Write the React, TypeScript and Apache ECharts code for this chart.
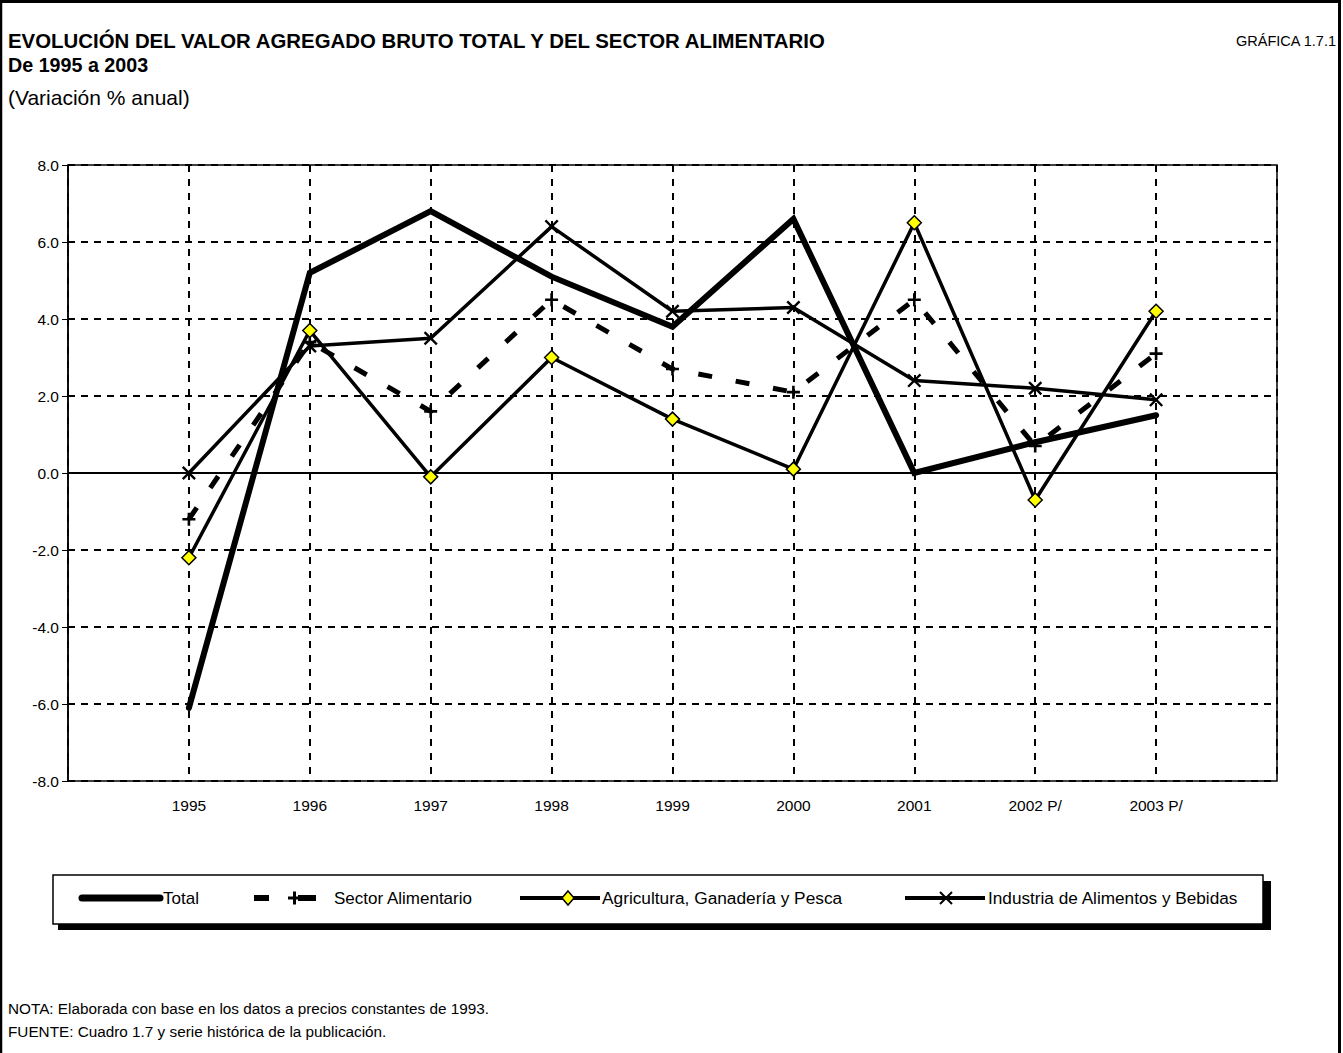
import React, { useEffect, useRef } from "react";
import * as echarts from "echarts";

const years = ["1995", "1996", "1997", "1998", "1999", "2000", "2001", "2002 P/", "2003 P/"];
const total = [-6.1, 5.2, 6.8, 5.1, 3.8, 6.6, 0.0, 0.8, 1.5];
const sector = [-1.2, 3.4, 1.6, 4.5, 2.7, 2.1, 4.5, 0.7, 3.1];
const agri = [-2.2, 3.7, -0.1, 3.0, 1.4, 0.1, 6.5, -0.7, 4.2];
const industria = [0.0, 3.3, 3.5, 6.4, 4.2, 4.3, 2.4, 2.2, 1.9];
const seriesNames = [
  "Total",
  "Sector Alimentario",
  "Agricultura, Ganadería y Pesca",
  "Industria de Alimentos y Bebidas",
];
const yTicks = { min: -8, max: 8, interval: 2 };

const FONT = "'Liberation Sans', Arial, sans-serif";
const PLUS = "path://M4,0H6V4H10V6H6V10H4V6H0V4H4Z";
const CROSS =
  "path://M0,1.2L1.2,0L5,3.8L8.8,0L10,1.2L6.2,5L10,8.8L8.8,10L5,6.2L1.2,10L0,8.8L3.8,5Z";

const pts = (vals: number[]) => vals.map((v, i) => [i + 1, v]);

export default function App() {
  const ref = useRef<HTMLDivElement>(null);
  useEffect(() => {
    if (!ref.current) return;
    const chart = echarts.init(ref.current, null, { renderer: "svg" });
    const ly = 898;
    const txt = (text: string, x: number, y: number, size: number, extra: any = {}) => ({
      type: "text",
      x,
      y,
      style: {
        text,
        fill: "#000",
        fontSize: size,
        fontFamily: FONT,
        align: "left",
        verticalAlign: "middle",
        ...extra,
      },
    });
    const graphic: any[] = [
      // outer frame
      { type: "line", shape: { x1: 0, y1: 1.5, x2: 1341, y2: 1.5 }, style: { stroke: "#000", lineWidth: 3 } },
      { type: "line", shape: { x1: 1, y1: 0, x2: 1, y2: 1053 }, style: { stroke: "#000", lineWidth: 2.5 } },
      { type: "line", shape: { x1: 1339.5, y1: 0, x2: 1339.5, y2: 1053 }, style: { stroke: "#000", lineWidth: 3 } },
      txt("EVOLUCIÓN DEL VALOR AGREGADO BRUTO TOTAL Y DEL SECTOR ALIMENTARIO", 8, 41, 20.4, { fontWeight: "bold" }),
      txt("De 1995 a 2003", 8, 65, 19.7, { fontWeight: "bold" }),
      txt("(Variación % anual)", 8, 97, 21),
      txt("GRÁFICA 1.7.1", 1336, 41, 14.5, { align: "right" }),
      txt("NOTA: Elaborada con base en los datos a precios constantes de 1993.", 8, 1008, 15.3),
      txt("FUENTE: Cuadro 1.7 y serie histórica de la publicación.", 8, 1031, 15.3),
      // legend box
      { type: "rect", shape: { x: 58, y: 881, width: 1213, height: 49 }, style: { fill: "#000" } },
      { type: "rect", shape: { x: 53, y: 875, width: 1210, height: 49 }, style: { fill: "#fff", stroke: "#000", lineWidth: 1.5 } },
      // Total
      { type: "line", shape: { x1: 82, y1: ly, x2: 160, y2: ly }, style: { stroke: "#000", lineWidth: 7, lineCap: "round" } },
      txt(seriesNames[0], 163, ly, 17),
      // Sector
      { type: "rect", shape: { x: 254, y: ly - 3, width: 15, height: 6 }, style: { fill: "#000" } },
      { type: "rect", shape: { x: 298, y: ly - 3, width: 18, height: 6 }, style: { fill: "#000" } },
      { type: "rect", shape: { x: 288, y: ly - 1.5, width: 13, height: 3 }, style: { fill: "#000" } },
      { type: "rect", shape: { x: 293, y: ly - 6.5, width: 3, height: 13 }, style: { fill: "#000" } },
      txt(seriesNames[1], 334, ly, 17),
      // Agricultura
      { type: "line", shape: { x1: 520, y1: ly, x2: 600, y2: ly }, style: { stroke: "#000", lineWidth: 4 } },
      {
        type: "polygon",
        shape: { points: [[568, ly - 7], [574, ly], [568, ly + 7], [562, ly]] },
        style: { fill: "#ffff00", stroke: "#000", lineWidth: 1.5 },
      },
      txt(seriesNames[2], 602, ly, 17.3),
      // Industria
      { type: "line", shape: { x1: 905, y1: ly, x2: 985, y2: ly }, style: { stroke: "#000", lineWidth: 4 } },
      { type: "line", shape: { x1: 940, y1: ly - 6, x2: 952, y2: ly + 6 }, style: { stroke: "#000", lineWidth: 2 } },
      { type: "line", shape: { x1: 940, y1: ly + 6, x2: 952, y2: ly - 6 }, style: { stroke: "#000", lineWidth: 2 } },
      txt(seriesNames[3], 988, ly, 17.2),
    ];

    const option: any = {
      animation: false,
      backgroundColor: "#fff",
      textStyle: { fontFamily: FONT },
      grid: {
        left: 68,
        right: 1343 - 1277,
        top: 165,
        bottom: 1053 - 781,
        show: true,
        borderColor: "#000",
        borderWidth: 1.5,
        containLabel: false,
      },
      xAxis: {
        type: "value",
        min: 0,
        max: 10,
        interval: 1,
        axisLine: { show: false, onZero: false },
        axisTick: { show: false },
        axisLabel: {
          color: "#000",
          fontSize: 15.5,
          fontFamily: FONT,
          margin: 16,
          formatter: (v: number) => years[v - 1] ?? "",
        },
        splitLine: { show: true, lineStyle: { color: "#000", width: 2, type: [7, 7] } },
      },
      yAxis: {
        type: "value",
        min: yTicks.min,
        max: yTicks.max,
        interval: yTicks.interval,
        axisLine: { show: true, lineStyle: { color: "#000", width: 1.5 } },
        axisTick: { show: true, length: 6, lineStyle: { color: "#000", width: 1 } },
        axisLabel: {
          color: "#000",
          fontSize: 15.5,
          fontFamily: FONT,
          margin: 9,
          formatter: (v: number) => v.toFixed(1),
        },
        splitLine: { show: true, lineStyle: { color: "#000", width: 2, type: [7, 6] } },
      },
      series: [
        {
          name: seriesNames[0],
          type: "line",
          data: pts(total),
          showSymbol: false,
          symbol: "none",
          lineStyle: { color: "#000", width: 6, cap: "round", join: "miter" },
          itemStyle: { color: "#000" },
          z: 3,
          markLine: {
            silent: true,
            symbol: "none",
            label: { show: false },
            lineStyle: { color: "#000", width: 2, type: "solid" },
            data: [{ yAxis: 0 }],
            z: 1,
          },
        },
        {
          name: seriesNames[1],
          type: "line",
          data: pts(sector),
          symbol: PLUS,
          symbolSize: 13,
          itemStyle: { color: "#000" },
          lineStyle: { color: "#000", width: 5, type: [14, 24] },
          z: 4,
        },
        {
          name: seriesNames[2],
          type: "line",
          data: pts(agri),
          symbol: "diamond",
          symbolSize: 14,
          itemStyle: { color: "#ffff00", borderColor: "#000", borderWidth: 1.5 },
          lineStyle: { color: "#000", width: 3.5 },
          z: 5,
        },
        {
          name: seriesNames[3],
          type: "line",
          data: pts(industria),
          symbol: CROSS,
          symbolSize: 14,
          itemStyle: { color: "#000" },
          lineStyle: { color: "#000", width: 3.5 },
          z: 6,
        },
      ],
      graphic,
    };
    chart.setOption(option);
    return () => chart.dispose();
  }, []);
  return (
    <div
      ref={ref}
      style={{ position: "fixed", left: 0, top: 0, width: 1343, height: 1053, background: "#fff" }}
    />
  );
}
